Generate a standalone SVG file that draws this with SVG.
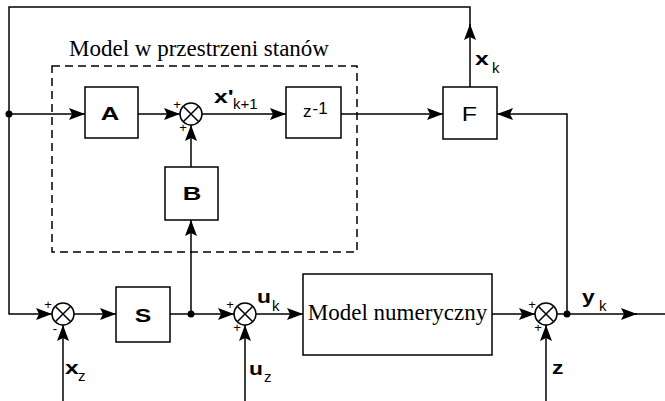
<svg xmlns="http://www.w3.org/2000/svg" width="665" height="401" viewBox="0 0 665 401">
<defs>
<marker id="ar" markerUnits="userSpaceOnUse" markerWidth="16" markerHeight="12" refX="16" refY="6" orient="auto" viewBox="0 0 16 12"><path d="M0,0 L16,6 L0,12 L3,6 Z" fill="#000"/></marker>
<g id="sum"><circle cx="0" cy="0" r="11" fill="#fff" stroke="#000" stroke-width="1.5"/><path d="M-7.5,-7.5 L7.5,7.5 M7.5,-7.5 L-7.5,7.5" stroke="#000" stroke-width="1.5"/></g>
</defs>
<style>
.ln{fill:none;stroke:#000;stroke-width:1.5}
.bx{fill:#fff;stroke:#000;stroke-width:1.5}
.b{font-family:"Liberation Sans",Arial,sans-serif;font-weight:bold;font-size:19px}
.n{font-family:"Liberation Sans",Arial,sans-serif;font-size:18px}
.r{font-family:"Liberation Sans",Arial,sans-serif;font-size:15px}
.sg{font-family:"Liberation Sans",Arial,sans-serif;font-size:13px}
.sf{font-family:"Liberation Serif","Times New Roman",serif;font-size:23px}
.dot{fill:#000}
</style>
<rect width="665" height="401" fill="#fff"/>

<g id="ss-model">
<rect x="52" y="66" width="305" height="186" fill="none" stroke="#000" stroke-width="1.5" stroke-dasharray="8,5"/>
<text class="sf" x="69" y="56">Model w przestrzeni stanów</text>
</g>

<g id="connectors">
<path class="ln" d="M470,87 V24" marker-end="url(#ar)"/>
<path class="ln" d="M470,26 V7 H9 V314 H52" marker-end="url(#ar)"/>
<path class="ln" d="M9,114 H85" marker-end="url(#ar)"/>
<path class="ln" d="M138,114 H180" marker-end="url(#ar)"/>
<path class="ln" d="M191,167 V125" marker-end="url(#ar)"/>
<path class="ln" d="M202,114 H286" marker-end="url(#ar)"/>
<path class="ln" d="M341,114 H443" marker-end="url(#ar)"/>
<path class="ln" d="M567,314 V114 H497" marker-end="url(#ar)"/>
<path class="ln" d="M74,314 H116" marker-end="url(#ar)"/>
<path class="ln" d="M170,314 H234" marker-end="url(#ar)"/>
<path class="ln" d="M191,314 V220" marker-end="url(#ar)"/>
<path class="ln" d="M256,314 H303" marker-end="url(#ar)"/>
<path class="ln" d="M492,314 H535" marker-end="url(#ar)"/>
<path class="ln" d="M557,314 H637" marker-end="url(#ar)"/>
<path class="ln" d="M635,314 H665"/>
<path class="ln" d="M63,401 V325" marker-end="url(#ar)"/>
<path class="ln" d="M245,401 V325" marker-end="url(#ar)"/>
<path class="ln" d="M546,401 V325" marker-end="url(#ar)"/>
<circle class="dot" cx="9" cy="114" r="3.5"/>
<circle class="dot" cx="191" cy="314" r="3.5"/>
<circle class="dot" cx="567" cy="314" r="3.5"/>
</g>

<g id="A"><rect class="bx" x="85" y="87" width="53" height="51"/><text class="b" transform="translate(110,120) scale(1.35,1)" text-anchor="middle">A</text></g>
<g id="B"><rect class="bx" x="165" y="167" width="53" height="53"/><text class="b" transform="translate(192,199.5) scale(1.35,1)" text-anchor="middle">B</text></g>
<g id="zinv"><rect class="bx" x="286" y="87" width="55" height="51"/><text class="n" x="303" y="117" style="font-size:17px">z<tspan dx="1" dy="-3">-1</tspan></text></g>
<g id="F"><rect class="bx" x="443" y="87" width="54" height="52"/><text class="n" transform="translate(469.5,120.5) scale(1.25,1)" text-anchor="middle" style="font-size:20px">F</text></g>
<g id="S"><rect class="bx" x="116" y="287" width="54" height="55"/><text class="b" transform="translate(143,321.5) scale(1.3,1)" text-anchor="middle">S</text></g>
<g id="model"><rect class="bx" x="303" y="274" width="189" height="81"/><text class="sf" x="397.5" y="320" text-anchor="middle">Model numeryczny</text></g>

<g id="sum1"><use href="#sum" x="191" y="114"/><text class="sg" x="177" y="109" text-anchor="middle">+</text><text class="sg" x="183" y="132" text-anchor="middle">+</text></g>
<g id="sum2"><use href="#sum" x="63" y="314"/><text class="sg" x="48" y="309" text-anchor="middle">+</text><text class="sg" x="55" y="333" text-anchor="middle">-</text></g>
<g id="sum3"><use href="#sum" x="245" y="314"/><text class="sg" x="230" y="309" text-anchor="middle">+</text><text class="sg" x="237" y="332" text-anchor="middle">+</text></g>
<g id="sum4"><use href="#sum" x="546" y="314"/><text class="sg" x="532" y="309" text-anchor="middle">+</text><text class="sg" x="538" y="332" text-anchor="middle">+</text></g>

<g id="labels">
<text class="b" transform="translate(214,103) scale(1.3,1)">x'</text><text class="r" x="233" y="109">k+1</text>
<text class="b" transform="translate(475,65) scale(1.3,1)">x</text><text class="r" x="492" y="73">k</text>
<text class="b" transform="translate(65,374) scale(1.3,1)">x</text><text class="r" x="78" y="381">z</text>
<text class="b" transform="translate(257,303) scale(1.2,1)">u</text><text class="r" x="272" y="311">k</text>
<text class="b" transform="translate(249,375) scale(1.2,1)">u</text><text class="r" x="264" y="382">z</text>
<text class="b" transform="translate(582,303) scale(1.2,1)">y</text><text class="r" x="599" y="311">k</text>
<text class="b" transform="translate(552,374) scale(1.2,1)">z</text>
</g>
</svg>
